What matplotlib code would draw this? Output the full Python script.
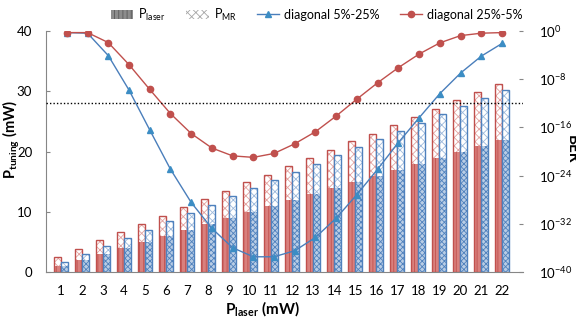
import numpy as np
import matplotlib
matplotlib.use('Agg')
import matplotlib.pyplot as plt
from matplotlib.patches import Patch
from matplotlib.lines import Line2D

#Data
p_laser = [1, 2, 3, 4, 5, 6, 7, 8, 9, 10, 11, 12, 13, 14, 15, 16, 17, 18, 19, 20, 21, 22]
p_mr_25_5 = [1.5, 1.9, 2.3, 2.7, 3.0, 3.4, 3.8, 4.1, 4.5, 4.9, 5.2, 5.6, 5.9, 6.3, 6.7, 7.0, 7.4, 7.8, 8.1, 8.5, 8.9, 9.2]
p_mr_5_25 = [0.7, 1.0, 1.4, 1.7, 2.1, 2.5, 2.8, 3.2, 3.6, 3.9, 4.3, 4.6, 5.0, 5.4, 5.7, 6.1, 6.4, 6.8, 7.2, 7.5, 7.9, 8.2]
#BER as log10 values
ber_5_25_exp = [-0.3, -0.4, -4.1, -9.8, -16.4, -22.9, -28.4, -32.7, -35.9, -37.4, -37.4, -36.4,
                -34.2, -31.0, -27.1, -22.9, -18.5, -14.4, -10.4, -7.0, -4.2, -2.1]
ber_25_5_exp = [-0.3, -0.3, -1.95, -5.6, -9.7, -13.7, -17.0, -19.4, -20.7, -20.95, -20.3, -18.7,
                -16.7, -14.1, -11.3, -8.6, -6.1, -3.85, -2.0, -0.8, -0.4, -0.3]
ber_limit = 1e-12

red = '#C0504D'
blue = '#4F81BD'

plt.rcParams['font.family'] = ['Lato', 'DejaVu Sans']
plt.rcParams['hatch.linewidth'] = 0.6
plt.rcParams['mathtext.fontset'] = 'custom'
plt.rcParams['mathtext.rm'] = 'Lato'
plt.rcParams['mathtext.bf'] = 'Lato:bold'

fig = plt.figure(figsize=(5.76, 3.24), dpi=100)
rect = [0.08, 0.159, 0.8275, 0.746]
ax = fig.add_axes(rect)

x = np.array(p_laser)
w = 0.34

#Bars: red = 25%-5%, blue = 5%-25%
ax.bar(x - w/2, p_laser, w, color='#D9807D', edgecolor=red, hatch='||||', lw=0)
ax.bar(x - w/2, p_mr_25_5, w, bottom=p_laser, color='white', edgecolor='#E3A3A1', hatch='xxxx', lw=0)
ax.bar(x - w/2, np.array(p_laser) + np.array(p_mr_25_5), w, fill=False, edgecolor=red, lw=1)
ax.bar(x + w/2, p_laser, w, color='#B9CDE5', edgecolor=blue, hatch='xxxxxx', lw=0)
ax.bar(x + w/2, p_mr_5_25, w, bottom=p_laser, color='white', edgecolor='#9DB9DC', hatch='xxxx', lw=0)
ax.bar(x + w/2, np.array(p_laser) + np.array(p_mr_5_25), w, fill=False, edgecolor=blue, lw=1)

ax.set_xlim(0.3, 22.97)
ax.set_ylim(0, 40)
ax.set_xticks(x)
ax.set_yticks([0, 10, 20, 30, 40])
ax.tick_params(axis='x', length=0, pad=9, labelsize=9.5)
ax.tick_params(axis='y', direction='in', length=3, color='#868686', pad=10, labelsize=9.5)
for s in ['top', 'right']:
    ax.spines[s].set_visible(False)
for s in ['left', 'bottom']:
    ax.spines[s].set_color('#868686')

#BER lines on their own axes
ax2 = fig.add_axes(rect, frameon=False)
ax2.plot(x, 10.0 ** np.array(ber_5_25_exp), color='#4A7EBB', lw=1, marker='^', ms=4.5,
         mfc='#3C8DC4', mec='#3C8DC4')
ax2.plot(x, 10.0 ** np.array(ber_25_5_exp), color=red, lw=1, marker='o', ms=4.5,
         mfc=red, mec=red)
ax2.axhline(ber_limit, color='black', ls=(0, (1, 1.5)), lw=1)
ax2.set_yscale('log')
ax2.set_ylim(1e-40, 1e0)
ax2.set_xlim(0, 23)
ax2.set_yticks([1e-40, 1e-32, 1e-24, 1e-16, 1e-8, 1e0])
ax2.yaxis.set_minor_locator(matplotlib.ticker.NullLocator())
ax2.yaxis.tick_right()
ax2.xaxis.set_visible(False)
ax2.tick_params(axis='y', direction='in', length=3, color='#868686', pad=12, labelsize=9.5)
ax2.spines['right'].set_visible(True)
ax2.spines['right'].set_color('#868686')
ax2.spines['right'].set_linewidth(1)
for s in ['top', 'left', 'bottom']:
    ax2.spines[s].set_visible(False)

#Axis titles
fig.text(0.019, 0.57, r'$\mathbf{P_{tuning}}$ (mW)', rotation=90, ha='center', va='center',
         fontsize=10.5, fontweight='bold')
fig.text(0.455, 0.048, r'$\mathbf{P_{laser}}$ (mW)', ha='center', va='center',
         fontsize=11, fontweight='bold')
fig.text(0.992, 0.54, 'BER', rotation=270, ha='center', va='center', fontsize=11, fontweight='bold')

#Caption, cut off by the bottom edge
fig.text(0.06, -0.004, 'Fig. 10: Power and BER under 5%-25% and 25%-5% diagonal', ha='left', va='top',
         fontsize=13, fontweight='bold')

#Legend
handles = [Patch(facecolor='#8C8C8C', edgecolor='#595959', hatch='||||', lw=0),
           Patch(facecolor='white', edgecolor='#A6A6A6', hatch='xxxx', lw=0),
           Line2D([], [], color='#4A7EBB', marker='^', ms=4.5, mfc='#3C8DC4', mec='#3C8DC4', lw=1),
           Line2D([], [], color=red, marker='o', ms=4.5, mfc=red, mec=red, lw=1)]
labels = [r'P$_{\mathrm{laser}}$', r'P$_{\mathrm{MR}}$', 'diagonal 5%-25%', 'diagonal 25%-5%']
fig.legend(handles, labels, loc='center', bbox_to_anchor=(0.55, 0.955), ncol=4, frameon=False,
           fontsize=9, handlelength=1.8, handletextpad=0.4, columnspacing=1.6)

plt.savefig('out.png', dpi=100)
